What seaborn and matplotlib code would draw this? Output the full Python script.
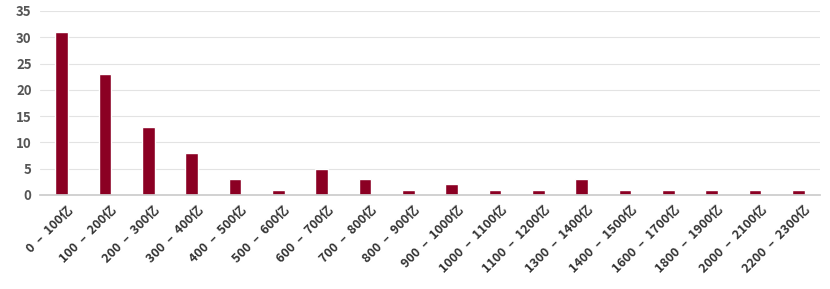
import matplotlib
matplotlib.use("Agg")
import matplotlib.pyplot as plt
import seaborn as sns
import pandas as pd
from matplotlib.transforms import ScaledTranslation

categories = ["0 – 100亿", "100 – 200亿", "200 – 300亿", "300 – 400亿", "400 – 500亿",
              "500 – 600亿", "600 – 700亿", "700 – 800亿", "800 – 900亿", "900 – 1000亿",
              "1000 – 1100亿", "1100 – 1200亿", "1300 – 1400亿", "1400 – 1500亿",
              "1600 – 1700亿", "1800 – 1900亿", "2000 – 2100亿", "2200 – 2300亿"]
values = [31, 23, 13, 8, 3, 1, 5, 3, 1, 2, 1, 1, 3, 1, 1, 1, 1, 1]
yticks = [0, 5, 10, 15, 20, 25, 30, 35]

sns.set_theme(style="white")
plt.rcParams['font.family'] = ['Noto Sans CJK SC', 'DejaVu Sans']

df = pd.DataFrame({"cat": categories, "val": values})
fig = plt.figure(figsize=(8.3, 2.89), dpi=100)
ax = fig.add_axes([40/830, 94/289, 780/830, (195-11)/289])
sns.barplot(data=df, x="cat", y="val", color="#8b0023", width=0.29, ax=ax, saturation=1)
ax.set_xlim(-0.5, len(categories) - 0.5)
ax.set_ylim(0, 35)
ax.set_yticks(yticks)
ax.set_yticklabels([str(t) for t in yticks], fontsize=9.5, fontweight="bold", color="#555555")
ax.set_xlabel("")
ax.set_ylabel("")
ax.grid(axis="y", color="#e3e3e3", linewidth=0.8)
ax.set_axisbelow(True)
for s in ["top", "right", "left"]:
    ax.spines[s].set_visible(False)
ax.spines["bottom"].set_color("#cccccc")
ax.tick_params(axis="y", length=0, pad=6)
ax.tick_params(axis="x", length=0, pad=6)
ax.set_xticks(range(len(categories)))
ax.set_xticklabels([c.replace(" – ", "  –  ") for c in categories], rotation=45, ha="right",
                   rotation_mode="anchor", fontsize=9, fontweight="bold", color="#333333")
offset = ScaledTranslation(5/100, 0, fig.dpi_scale_trans)
for lbl in ax.get_xticklabels():
    lbl.set_transform(lbl.get_transform() + offset)
fig.savefig("out.png", dpi=100)
